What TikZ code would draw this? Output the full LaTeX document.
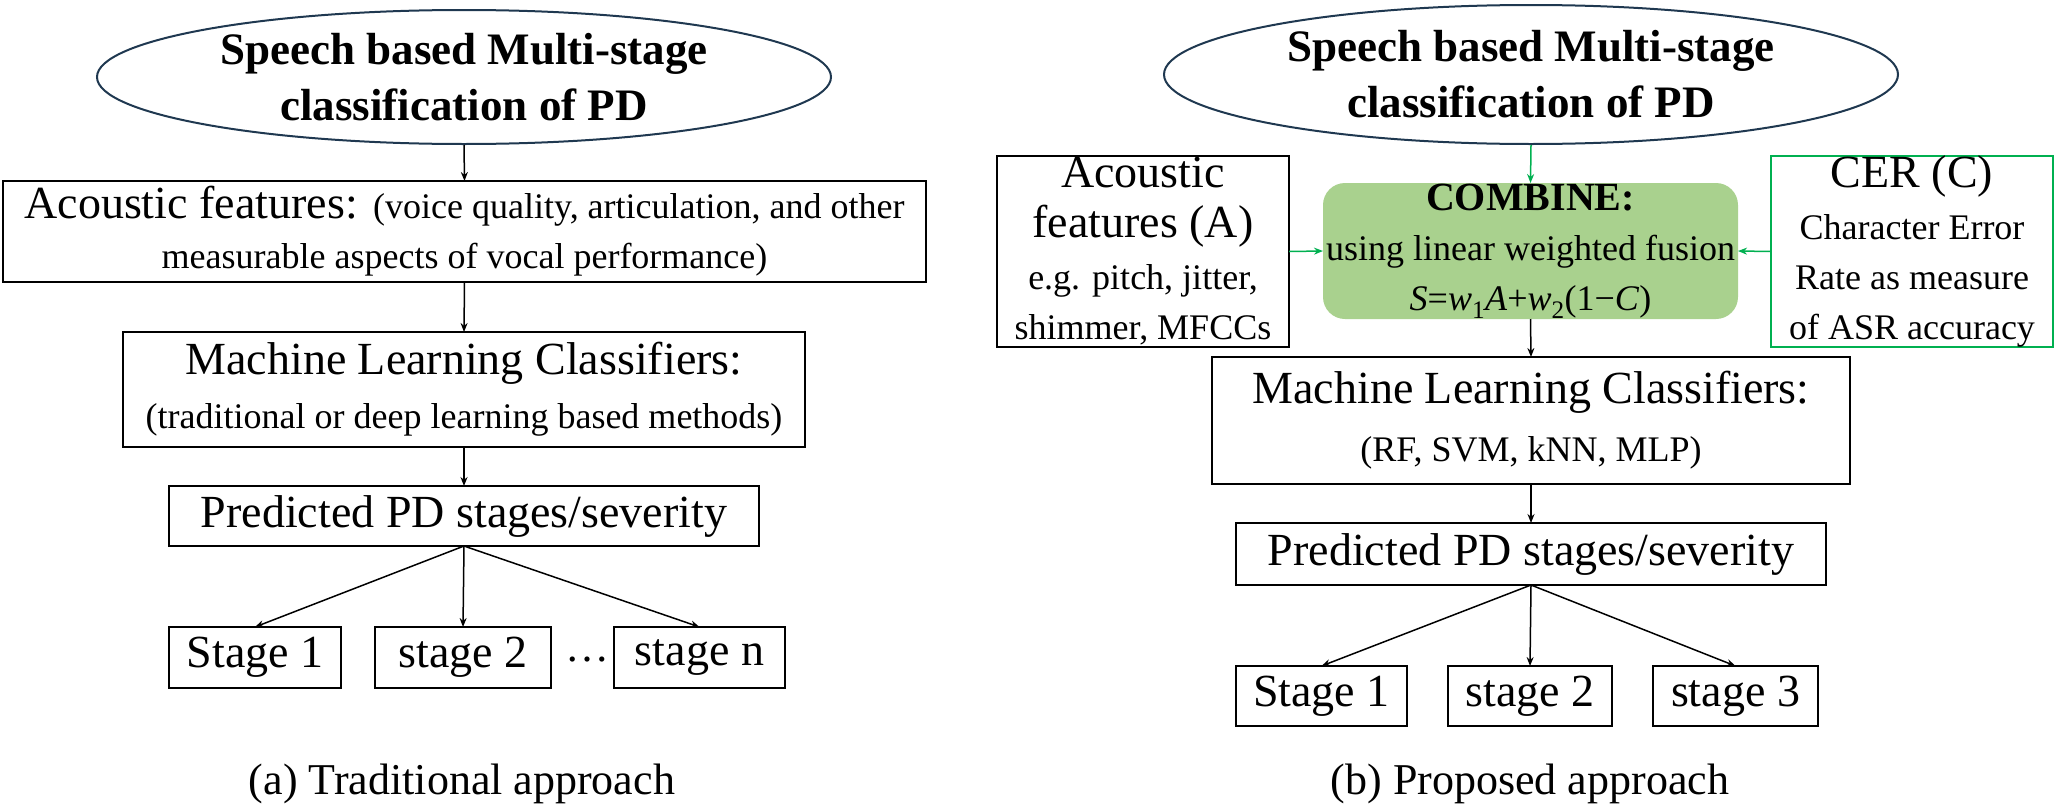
\documentclass[tikz,border=0pt]{standalone}
\usepackage{fontspec}
\setmainfont{Liberation Serif}
\usetikzlibrary{shapes.geometric,arrows.meta}
\definecolor{custcol_green}{RGB}{0, 176, 80}
\definecolor{custcol_fill}{RGB}{169, 209, 142}
\definecolor{custcol_navy}{RGB}{31, 56, 80}
\tikzset{
  box/.style={draw, line width=2pt, inner sep=0, outer sep=0, align=center, font=\fontsize{46pt}{50pt}\selectfont},
  oval/.style={draw=custcol_navy, line width=2pt, ellipse, inner sep=0, align=center, font=\fontsize{45pt}{56pt}\selectfont\bfseries},
  arr/.style={-{Stealth[length=9pt,width=7pt]}, line width=1.5pt},
  garr/.style={arr, custcol_green}
}
\newcommand{\sm}[1]{{\fontsize{36pt}{40pt}\selectfont #1}}
\begin{document}
\begin{tikzpicture}[x=1pt,y=-1pt]
\useasboundingbox (0,0) rectangle (2056,806);
% (a) traditional
\node[oval, minimum width=734, minimum height=134] (titleA) at (464,77) {Speech based Multi-stage\\classification of PD};
\node[box, minimum width=923, minimum height=101] (featA) at (464.5,231.5) {Acoustic features: \sm{(voice quality, articulation, and other}\\\sm{measurable aspects of vocal performance)}};
\node[box, minimum width=682, minimum height=115] (mlA) at (464,389.5) {Machine Learning Classifiers:\\[4pt]\sm{(traditional or deep learning based methods)}};
\node[box, minimum width=590, minimum height=60] (predA) at (464,516) {Predicted PD stages/severity};
\node[box, minimum width=172, minimum height=61] (s1A) at (255,657.5) {Stage 1};
\node[box, minimum width=176, minimum height=61] (s2A) at (463,657.5) {stage 2};
\node[box, minimum width=171, minimum height=61] (snA) at (699.5,657.5) {stage n};
\node[font=\fontsize{44pt}{48pt}\selectfont] (dotsA) at (587,660) {\dots};
\node[font=\fontsize{44pt}{48pt}\selectfont] (capA) at (462,784) {(a) Traditional approach};
\draw[arr] (titleA.south) -- (featA.north);
\draw[arr] (featA.south) -- (mlA.north);
\draw[arr] (mlA.south) -- (predA.north);
\draw[arr] (predA.south) -- (s1A.north);
\draw[arr] (predA.south) -- (s2A.north);
\draw[arr] (predA.south) -- (snA.north);
% (b) proposed
\node[oval, minimum width=734, minimum height=139] (titleB) at (1531,74.5) {Speech based Multi-stage\\classification of PD};
\node[box, minimum width=292, minimum height=191] (featB) at (1143,251.5) {Acoustic\\features (A)\\[2pt]\sm{e.g. pitch, jitter,}\\\sm{shimmer, MFCCs}};
\node[box, draw=none, fill=custcol_fill, rounded corners=22pt, minimum width=415, minimum height=136] (comb) at (1530.5,251) {\textbf{\fontsize{40pt}{44pt}\selectfont COMBINE:}\\\sm{using linear weighted fusion}\\\sm{\textit{S}=\textit{w}\textsubscript{1}\textit{A}+\textit{w}\textsubscript{2}(1\textminus\textit{C})}};
\node[box, draw=custcol_green, minimum width=282, minimum height=191] (cer) at (1912,251.5) {CER (C)\\[2pt]\sm{Character Error}\\\sm{Rate as measure}\\\sm{of ASR accuracy}};
\node[box, minimum width=638, minimum height=127] (mlB) at (1531,420.5) {Machine Learning Classifiers:\\[8pt]\sm{(RF, SVM, kNN, MLP)}};
\node[box, minimum width=590, minimum height=62] (predB) at (1531,554) {Predicted PD stages/severity};
\node[box, minimum width=171, minimum height=60] (s1B) at (1321.5,696) {Stage 1};
\node[box, minimum width=164, minimum height=60] (s2B) at (1530,696) {stage 2};
\node[box, minimum width=165, minimum height=60] (s3B) at (1735.5,696) {stage 3};
\node[font=\fontsize{44pt}{48pt}\selectfont] (capB) at (1530,784) {(b) Proposed approach};
\draw[garr] (titleB.south) -- (comb.north);
\draw[garr] (featB.east) -- (comb.west);
\draw[garr] (cer.west) -- (comb.east);
\draw[arr] (comb.south) -- (mlB.north);
\draw[arr] (mlB.south) -- (predB.north);
\draw[arr] (predB.south) -- (s1B.north);
\draw[arr] (predB.south) -- (s2B.north);
\draw[arr] (predB.south) -- (s3B.north);
\end{tikzpicture}
\end{document}
